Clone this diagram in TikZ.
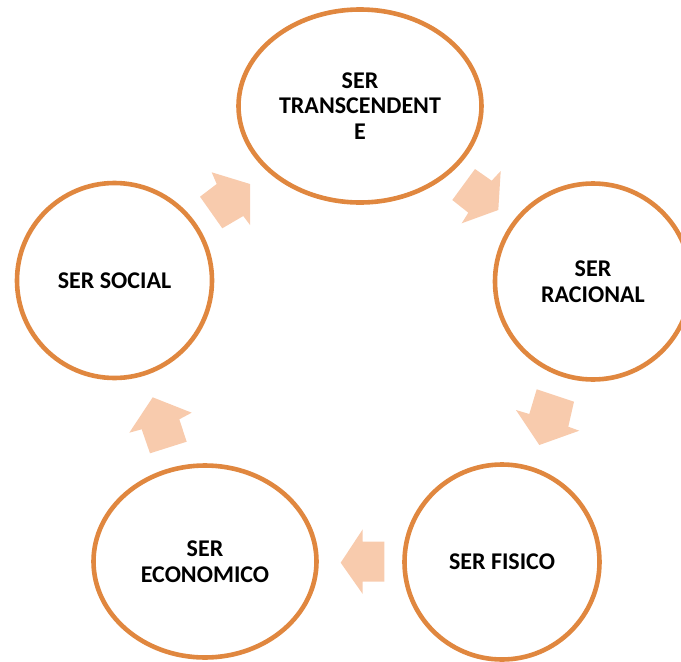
\documentclass[tikz,border=0pt]{standalone}
\usepackage{fontspec}
\setmainfont{Carlito}
\usetikzlibrary{shapes.geometric}
\definecolor{borde}{HTML}{E0873F}
\definecolor{melocoton}{HTML}{F8CBAD}

\begin{document}
\begin{tikzpicture}[x=1pt,y=-1pt,
		ser/.style={ellipse,draw=borde,line width=4.6pt,fill=white,align=center,inner sep=0pt,
			font=\fontsize{24}{25.5}\selectfont\bfseries},
		bloque/.style={fill=melocoton}]
		\useasboundingbox (0,0) rectangle (681,662);
		\node[ser,minimum width=243,minimum height=193] (trasc) at (360,106) {SER\\TRANSCENDENT\\E};
		\node[ser,minimum width=196,minimum height=196] (racional) at (593,281.5) {SER\\RACIONAL};
		\node[ser,minimum width=195,minimum height=195] (fisico) at (502,562) {SER FISICO};
		\node[ser,minimum width=223,minimum height=192] (economico) at (205,561.5) {SER\\ECONOMICO};
		\node[ser,minimum width=195,minimum height=195] (social) at (114.5,280.5) {SER SOCIAL};
		\fill[bloque] (211.7,172.3) -- (250,184) -- (250,225) -- (243.3,216) -- (222.3,228.3) -- (200,196.7) -- (216.7,184) -- cycle;
		\fill[bloque] (475,169) -- (491.7,180.7) -- (500.7,171) -- (498.3,210) -- (461.7,223.3) -- (468.3,212.7) -- (452.3,200) -- cycle;
		\fill[bloque] (536.7,389.3) -- (574,401.7) -- (568.3,426.7) -- (579.3,430.7) -- (539.3,445) -- (516,410) -- (529.3,414) -- cycle;
		\fill[bloque] (362.7,529.3) -- (362.7,541.7) -- (384.3,541.7) -- (384.3,581.7) -- (362.7,581.7) -- (362.7,594) -- (340.7,562.7) -- cycle;
		\fill[bloque] (129.3,432.7) -- (152.7,397.3) -- (191.7,412.7) -- (179.3,419.3) -- (186.7,441.7) -- (150,453.3) -- (141.7,429.3) -- cycle;
	\end{tikzpicture}
\end{document}
